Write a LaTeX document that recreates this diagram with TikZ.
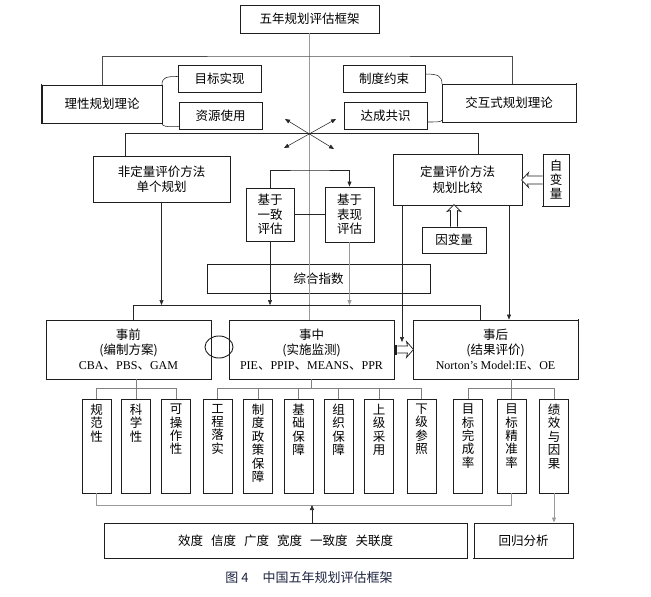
\documentclass[tikz,border=0pt]{standalone}
\usepackage{fontspec}
\setmainfont{Liberation Serif}
\newfontfamily\cjk{Noto Sans CJK SC}
\usetikzlibrary{arrows.meta,shapes.geometric}
\definecolor{lg}{HTML}{9A9A9A}
\definecolor{bd}{HTML}{1E1E1E}
\definecolor{capc}{HTML}{1C2340}
\newcommand\vt[1]{\parbox[t][84pt][t]{16pt}{\centering\cjk\fontsize{12.5}{13.4}\selectfont #1}}
\newcommand\lt[1]{{\rmfamily\fontsize{12}{15}\selectfont #1}}
\newcommand\hollowarrow[5]{% start, angle, length, shaft half width, head half width
  \begin{scope}[shift={(#1)}, rotate=#2]
  \draw[line width=0.7pt, draw=bd, fill=white, line join=miter]
    (0,-#4) -- (#3-6,-#4) -- (#3-7,-#5) -- (#3,0) -- (#3-7,#5) -- (#3-6,#4) -- (0,#4);
  \end{scope}}
\begin{document}
\begin{tikzpicture}[x=1pt,y=-1pt,
  box/.style={draw=bd, line width=0.9pt, inner sep=0pt, align=center, font=\cjk\fontsize{12.5}{15.5}\selectfont},
  vbox/.style={draw=bd, line width=0.9pt, minimum width=29pt, minimum height=94pt, inner sep=0pt},
  cl/.style={line width=0.55pt, draw=black!85},
  gl/.style={line width=1pt, draw=lg},
  tl/.style={line width=0.7pt, draw=black!50},
  sh/.style={line width=1.8pt, draw=bd, line cap=rect},
  arr/.style={-{Triangle[length=5pt,width=4pt]}},
]
\useasboundingbox (0,0) rectangle (651,597);

% ---- nodes ----
\node[box, minimum width=139pt, minimum height=28pt] (title) at (309.5,19) {五年规划评估框架};
\node[box, minimum width=120pt, minimum height=38pt] (lix) at (102,104) {理性规划理论};
\node[box, minimum width=83pt, minimum height=27pt] (mb1) at (219.5,78.5) {目标实现};
\node[box, minimum width=83pt, minimum height=27pt] (mb2) at (220.5,115.5) {资源使用};
\node[box, minimum width=82pt, minimum height=27pt] (zd) at (384,78.5) {制度约束};
\node[box, minimum width=83pt, minimum height=27pt] (dc) at (385.5,115.5) {达成共识};
\node[box, minimum width=134pt, minimum height=38pt] (jh) at (509,103) {交互式规划理论};
\node[box, minimum width=137pt, minimum height=46pt] (fdl) at (161.5,179) {非定量评价方法\\单个规划};
\node[box, font=\cjk\fontsize{12.5}{14.5}\selectfont, minimum width=48pt, minimum height=53pt] (jy) at (270,214.5) {基于\\一致\\评估};
\node[box, font=\cjk\fontsize{12.5}{14.5}\selectfont, minimum width=49pt, minimum height=55pt] (bx) at (349.5,214.5) {基于\\表现\\评估};
\node[box, minimum width=129pt, minimum height=51pt] (dl) at (457.5,179.5) {定量评价方法\\规划比较};
\node[box, font=\cjk\fontsize{12.5}{14}\selectfont, minimum width=26pt, minimum height=52pt] (zbl) at (556,180) {自\\变\\量};
\node[box, minimum width=64pt, minimum height=26pt] (ybl) at (454,240) {因变量};
\node[box, minimum width=223pt, minimum height=29pt] (zh) at (318.5,278.5) {综合指数};
\node[box, font=\cjk\fontsize{12.5}{15}\selectfont, minimum width=165pt, minimum height=59pt] (sq) at (128.5,349.5)
  {事前\\(编制方案)\\\lt{CBA}、\lt{PBS}、\lt{GAM}};
\node[box, font=\cjk\fontsize{12.5}{15}\selectfont, minimum width=165pt, minimum height=59pt] (sz) at (311.5,349.5)
  {事中\\(实施监测)\\\lt{PIE}、\lt{PPIP}、\lt{MEANS}、\lt{PPR}};
\node[box, font=\cjk\fontsize{12.5}{15}\selectfont, minimum width=165pt, minimum height=59pt] (sh) at (495.5,349.5)
  {事后\\(结果评价)\\\lt{Norton’s Model:IE}、\lt{OE}};
\node[draw=bd, line width=0.9pt, ellipse, minimum width=28pt, minimum height=22pt, inner sep=0pt] (el) at (219,347) {};

\node[vbox] (b1) at (96.5,446) {\vt{规\\范\\性}};
\node[vbox] (b2) at (136,446) {\vt{科\\学\\性}};
\node[vbox] (b3) at (176,446) {\vt{可\\操\\作\\性}};
\node[vbox] (b4) at (217.5,446) {\vt{工\\程\\落\\实}};
\node[vbox] (b5) at (258,446) {\vt{制\\度\\政\\策\\保\\障}};
\node[vbox] (b6) at (298.5,446) {\vt{基\\础\\保\\障}};
\node[vbox] (b7) at (338.5,446) {\vt{组\\织\\保\\障}};
\node[vbox] (b8) at (379,446) {\vt{上\\级\\采\\用}};
\node[vbox] (b9) at (421.5,446) {\vt{下\\级\\参\\照}};
\node[vbox] (b10) at (468,446) {\vt{目\\标\\完\\成\\率}};
\node[vbox] (b11) at (511.5,446) {\vt{目\\标\\精\\准\\率}};
\node[vbox] (b12) at (554,446) {\vt{绩\\效\\与\\因\\果}};

\node[box, minimum width=363pt, minimum height=35pt] (xd) at (285.5,540.5)
  {效度\hspace{8pt}信度\hspace{8pt}广度\hspace{8pt}宽度\hspace{8pt}一致度\hspace{8pt}关联度};
\node[box, minimum width=99pt, minimum height=35pt] (hg) at (523.5,540.5) {回归分析};

\node[font=\cjk\fontsize{13}{15}\selectfont, text=capc, inner sep=0pt] (cap) at (309,578) {图 4\hspace{14pt}中国五年规划评估框架};

% heavier (shadow) edges
\draw[sh] (lix.north west) -- (lix.south west) -- (lix.south east);
\draw[sh] (jh.north east) -- (jh.south east);
\draw[sh] (sh.north east) -- (sh.south east);
\draw[sh] (zbl.south west) -- (zbl.south east);
\draw[sh] (hg.south west) -- (hg.south east);

% ---- coordinates ----
\coordinate (tb) at (310,56);
\coordinate (h2l) at (125,133);
\coordinate (h2r) at (478,133);
\coordinate (x1) at (285,119);
\coordinate (x2) at (334,149);
\coordinate (x3) at (336,119);
\coordinate (x4) at (284,148);
\coordinate (j170) at (310,170);
\coordinate (L3a) at (133,305);
\coordinate (L3b) at (480,305);
\coordinate (dA) at (402,205);
\coordinate (dAe) at (402,342);
\coordinate (dR) at (509,205);
\coordinate (t1) at (0,388);
\coordinate (bb) at (312,505);
\coordinate (bl) at (0,505);
\coordinate (ha) at ([xshift=3pt]sz.east);

% ---- connectors ----
\draw[gl] (title.south) -- (title.south |- sz.north);
\draw[cl, draw=black!70] (lix.north) |- (tb) -| ([xshift=3pt]jh.north);
\draw[cl] ([yshift=2pt]mb1.west) .. controls (166,76.5) and (162,77.5) .. (162,85);
\draw[cl] (162,123) .. controls (162,126.5) and (166,127) .. ([yshift=-11pt]mb2.west);
\draw[cl] ([yshift=4.5pt]zd.east) .. controls (438,74) and (442,76) .. (442,84);
\draw[cl] (442,120) .. controls (442,122) and (436,122) .. ([yshift=-6.5pt]dc.east);

\draw[cl] (fdl.north -| h2l) -- (h2l) -- (h2r) -- (h2r |- dl.north);
\draw[cl, {Triangle[length=5pt,width=4pt]}-{Triangle[length=5pt,width=4pt]}] (x1) -- (x2);
\draw[cl, {Triangle[length=5pt,width=4pt]}-{Triangle[length=5pt,width=4pt]}] (x3) -- (x4);

\draw[cl, arr] (jy.north) |- (j170) -| (bx.north);
\draw[cl] (jy.east) -- (bx.west);
\draw[cl, arr] (fdl.south) -- (fdl.south |- L3a);
\draw[cl, arr] (jy.south) -- (jy.south |- L3a);
\draw[gl, line width=0.8pt, arr] (bx.south) -- (bx.south |- L3a);
\draw[cl] (L3a |- sq.north) -- (L3a) -- (L3b) -- (L3b |- sh.north);

\draw[cl, arr] (dR) -- (dR |- sh.north);

% hollow arrows
\hollowarrow{zbl.west}{180}{21}{4}{7.5}
\hollowarrow{ybl.north}{90}{22}{3.5}{7}
\hollowarrow{ha}{0}{16}{3.5}{8}
\draw[line width=3pt, draw=bd] ([xshift=1.5pt,yshift=5pt]sz.east) -- ([xshift=1.5pt,yshift=-5pt]sz.east);
\draw[cl, arr] (dA) -- (dAe);

% trees
\draw[tl] (b2.north |- sq.south) -- (b2.north);
\draw[tl] (b1.north) -- (b1.north |- t1) -- (b3.north |- t1) -- (b3.north);
\draw[tl] (sz.south) -- (sz.south |- t1);
\draw[tl] (b4.north) -- (b4.north |- t1) -- (b9.north |- t1) -- (b9.north);
\foreach \b in {b5,b6,b7,b8} \draw[tl] (\b.north |- t1) -- (\b.north);
\draw[tl] (b11.north |- sh.south) -- (b11.north);
\draw[tl] (b10.north) -- (b10.north |- t1) -- (b12.north |- t1) -- (b12.north);

% bottom
\draw[gl, line width=0.8pt] (b1.south) -- (b1.south |- bl) -- (b11.south |- bl) -- (b11.south);
\draw[cl, arr] (xd.north -| bb) -- (bb);
\draw[gl, line width=0.8pt, arr] (b12.south) -- (b12.south |- hg.north);
\end{tikzpicture}
\end{document}
